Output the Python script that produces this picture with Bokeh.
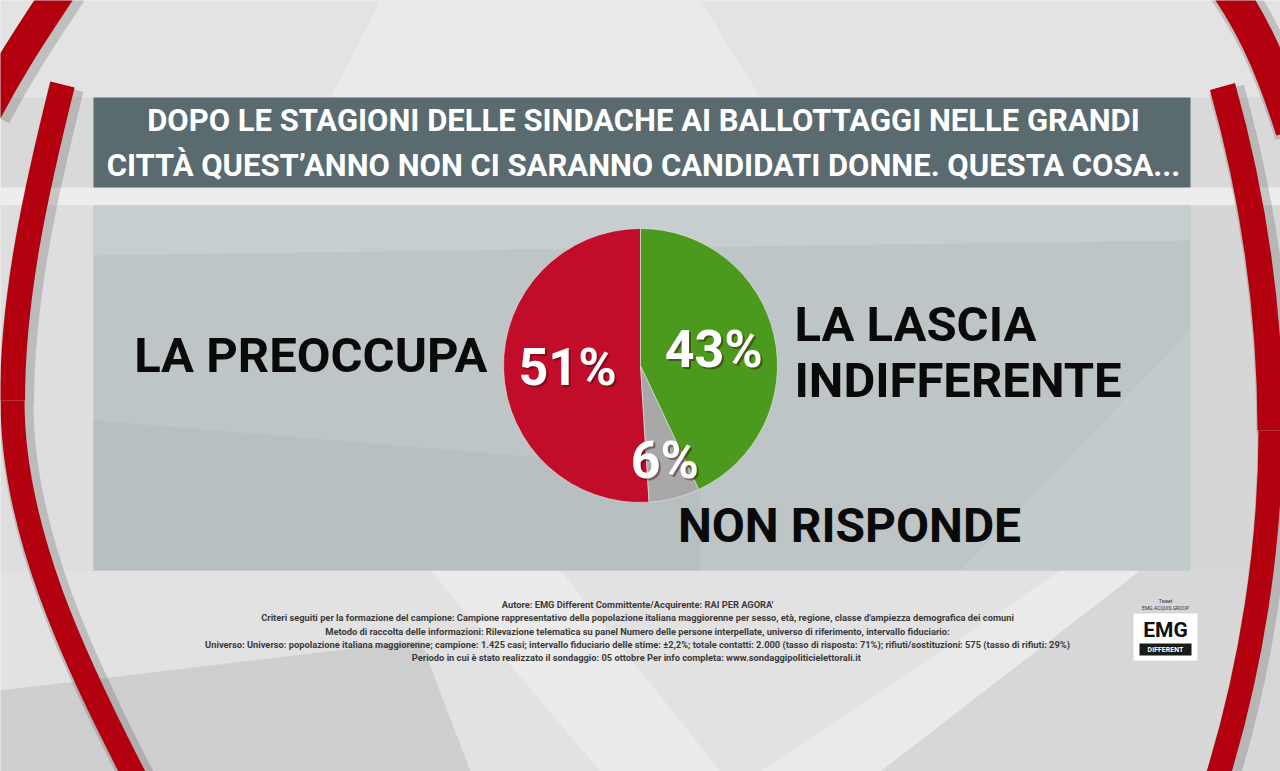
import numpy as np
from bokeh.plotting import figure
from bokeh.models import Range1d, ColumnDataSource
from bokeh.core.properties import value
from bokeh.embed import file_html
from bokeh.resources import INLINE

# ---------------- data ----------------
categories = ["LA PREOCCUPA", "NON RISPONDE", "LA LASCIA INDIFFERENTE"]
values = [51, 6, 43]
slice_colors = ["#c10d29", "#a8a8a8", "#4b9a1d"]
pct_labels = [f"{v}%" for v in values]

title_lines = [
    "DOPO LE STAGIONI DELLE SINDACHE AI BALLOTTAGGI NELLE GRANDI",
    "CITTÀ QUEST’ANNO NON CI SARANNO CANDIDATI DONNE. QUESTA COSA...",
]
footer_lines = [
    "Autore: EMG Different Committente/Acquirente: RAI PER AGORA'",
    "Criteri seguiti per la formazione del campione: Campione rappresentativo della popolazione italiana maggiorenne per sesso, età, regione, classe d'ampiezza demografica dei comuni",
    "Metodo di raccolta delle informazioni: Rilevazione telematica su panel Numero delle persone interpellate, universo di riferimento, intervallo fiduciario:",
    "Universo: Universo: popolazione italiana maggiorenne; campione: 1.425 casi; intervallo fiduciario delle stime: ±2,2%; totale contatti: 2.000 (tasso di risposta: 71%); rifiuti/sostituzioni: 575 (tasso di rifiuti: 29%)",
    "Periodo in cui è stato realizzato il sondaggio: 05 ottobre  Per info completa: www.sondaggipoliticielettorali.it",
]

# ---------------- figure ----------------
W, H = 1280, 771
p = figure(width=W, height=H, x_range=Range1d(0, 1280), y_range=Range1d(0, 771),
           output_backend="svg", toolbar_location=None, min_border=0)
p.axis.visible = False
p.grid.visible = False
p.outline_line_color = None
p.background_fill_color = "#d9d9d9"
p.border_fill_color = "#d9d9d9"


def Y(v):
    return 771 - v


def poly(pts):
    return [x for x, _ in pts], [Y(y) for _, y in pts]


# background facets
facets = [
    ([(0, 0), (1280, 0), (1280, 97), (0, 97)], "#e3e3e3", 1.0),
    ([(380, 0), (700, 0), (760, 97), (330, 97)], "#ececec", 0.7),
    ([(0, 187), (1280, 187), (1280, 205), (0, 205)], "#ededed", 1.0),
    ([(0, 205), (93, 205), (93, 570), (0, 570)], "#dedede", 1.0),
    ([(1190, 205), (1280, 205), (1280, 570), (1190, 570)], "#d6d6d6", 1.0),
    ([(0, 570), (1280, 570), (1280, 771), (0, 771)], "#e2e2e2", 1.0),
    ([(0, 690), (420, 640), (470, 771), (0, 771)], "#c9c9c9", 0.8),
    ([(430, 570), (560, 570), (720, 771), (600, 771)], "#eeeeee", 0.8),
    ([(760, 771), (1060, 570), (1140, 570), (880, 771)], "#ececec", 0.8),
    ([(880, 771), (1140, 570), (1280, 570), (1280, 771)], "#d3d3d3", 0.7),
]
for pts, col, a in facets:
    xs, ys = poly(pts)
    p.patch(xs, ys, fill_color=col, fill_alpha=a, line_color=None)

# red arcs (decoration) drawn as bezier curves, with soft shadows
arcs = [
    # x0, y0, cx0, cy0, cx1, cy1, x1, y1, width
    (62, 84, 36, 188, 12, 295, 12, 400, 25),
    (12, 400, 12, 530, 74, 660, 136, 780, 24),
    (66, -20, 40, 20, 15, 55, -14, 110, 32),
    (1222, 86, 1254, 200, 1270, 315, 1270, 430, 26),
    (1270, 430, 1270, 545, 1251, 667, 1216, 780, 24),
    (1222, -20, 1250, 20, 1270, 60, 1292, 130, 34),
]
for (x0, y0, a0, b0, a1, b1, x1, y1, w) in arcs:
    p.bezier(x0=x0 + 4, y0=Y(y0 + 3), x1=x1 + 4, y1=Y(y1 + 3), cx0=a0 + 4, cy0=Y(b0 + 3),
             cx1=a1 + 4, cy1=Y(b1 + 3), line_color="#555555", line_alpha=0.25, line_width=w + 10)
    p.bezier(x0=x0, y0=Y(y0), x1=x1, y1=Y(y1), cx0=a0, cy0=Y(b0), cx1=a1, cy1=Y(b1),
             line_color="#b3000f", line_width=w)

# title box
p.quad(left=93, right=1190, top=Y(97), bottom=Y(187), fill_color="#5a6b70", line_color=None)
font = value("Roboto")
p.text(x=[643, 643], y=[Y(120), Y(165)], text=title_lines, text_font=font,
       text_font_style="bold", text_font_size="31px", text_color="white",
       text_align="center", text_baseline="middle")

# main panel
p.quad(left=93, right=1190, top=Y(205), bottom=Y(570), fill_color="#bcc4c6", fill_alpha=0.95, line_color=None)
panel_facets = [
    ([(93, 205), (1190, 205), (1190, 240), (93, 255)], "#c8cfd1", 0.8),
    ([(93, 420), (700, 470), (700, 570), (93, 570)], "#b2babc", 0.6),
    ([(960, 570), (1190, 330), (1190, 570)], "#c7cdcf", 0.6),
]
for pts, col, a in panel_facets:
    xs, ys = poly(pts)
    p.patch(xs, ys, fill_color=col, fill_alpha=a, line_color=None)

# ---------------- pie ----------------
cx, cy, R = 640, Y(365), 137
frac = np.array(values, dtype=float) / sum(values)
ends = np.pi / 2 + 2 * np.pi * np.cumsum(frac)
starts = ends - 2 * np.pi * frac
mids = (starts + ends) / 2
src = ColumnDataSource(dict(start=starts, end=ends, color=slice_colors, cat=categories))
p.wedge(x=cx, y=cy, radius=R, start_angle="start", end_angle="end", fill_color="color",
        line_color="#e8e8e8", line_alpha=0.6, line_width=1, source=src)

label_r = np.array([73, 98, 75])
lx = cx + label_r * np.cos(mids)
ly = cy + label_r * np.sin(mids)
p.text(x=lx + 2, y=ly - 2, text=pct_labels, text_font=font, text_font_style="bold",
       text_font_size="52px", text_color="#3a0a0a", text_alpha=0.45,
       text_align="center", text_baseline="middle")
p.text(x=lx, y=ly, text=pct_labels, text_font=font, text_font_style="bold",
       text_font_size="52px", text_color="white",
       text_align="center", text_baseline="middle")

# category labels
p.text(x=[487], y=[Y(355)], text=[categories[0]], text_font=font, text_font_style="bold",
       text_font_size="49px", text_color="#0a0a0a", text_align="right",
       text_baseline="middle")
p.text(x=[794, 794], y=[Y(324), Y(380)], text=["LA LASCIA", "INDIFFERENTE"], text_font=font,
       text_font_style="bold", text_font_size="49px", text_color="#0a0a0a", text_align="left",
       text_baseline="middle")
p.text(x=[849], y=[Y(525)], text=[categories[1]], text_font=font, text_font_style="bold",
       text_font_size="48px", text_color="#0a0a0a", text_align="center",
       text_baseline="middle")

# ---------------- footer ----------------
fy = [604, 617, 631, 644, 657]
p.text(x=[637] * 5, y=[Y(v) for v in fy], text=footer_lines, text_font=font,
       text_font_style="bold", text_font_size="9.3px", text_color="#3a3a3a",
       text_align="center", text_baseline="middle")

# EMG logo
p.quad(left=1133, right=1197, top=Y(613), bottom=Y(660), fill_color="white", line_color=None)
p.text(x=[1165], y=[Y(629)], text=["EMG"], text_font=font, text_font_style="bold",
       text_font_size="21px", text_color="#111111", text_align="center", text_baseline="middle")
p.quad(left=1139, right=1191, top=Y(643), bottom=Y(655), fill_color="#1a1a1a", line_color=None)
p.text(x=[1165], y=[Y(649)], text=["DIFFERENT"], text_font=font, text_font_style="bold",
       text_font_size="7px", text_color="white", text_align="center", text_baseline="middle")
p.text(x=[1165, 1165], y=[Y(600), Y(607)], text=["Tweet", "EMG ACQUIS GROUP"], text_font=font,
       text_font_size="5px", text_color="#333333", text_align="center", text_baseline="middle")

open("out.html", "w").write(file_html(p, INLINE))
